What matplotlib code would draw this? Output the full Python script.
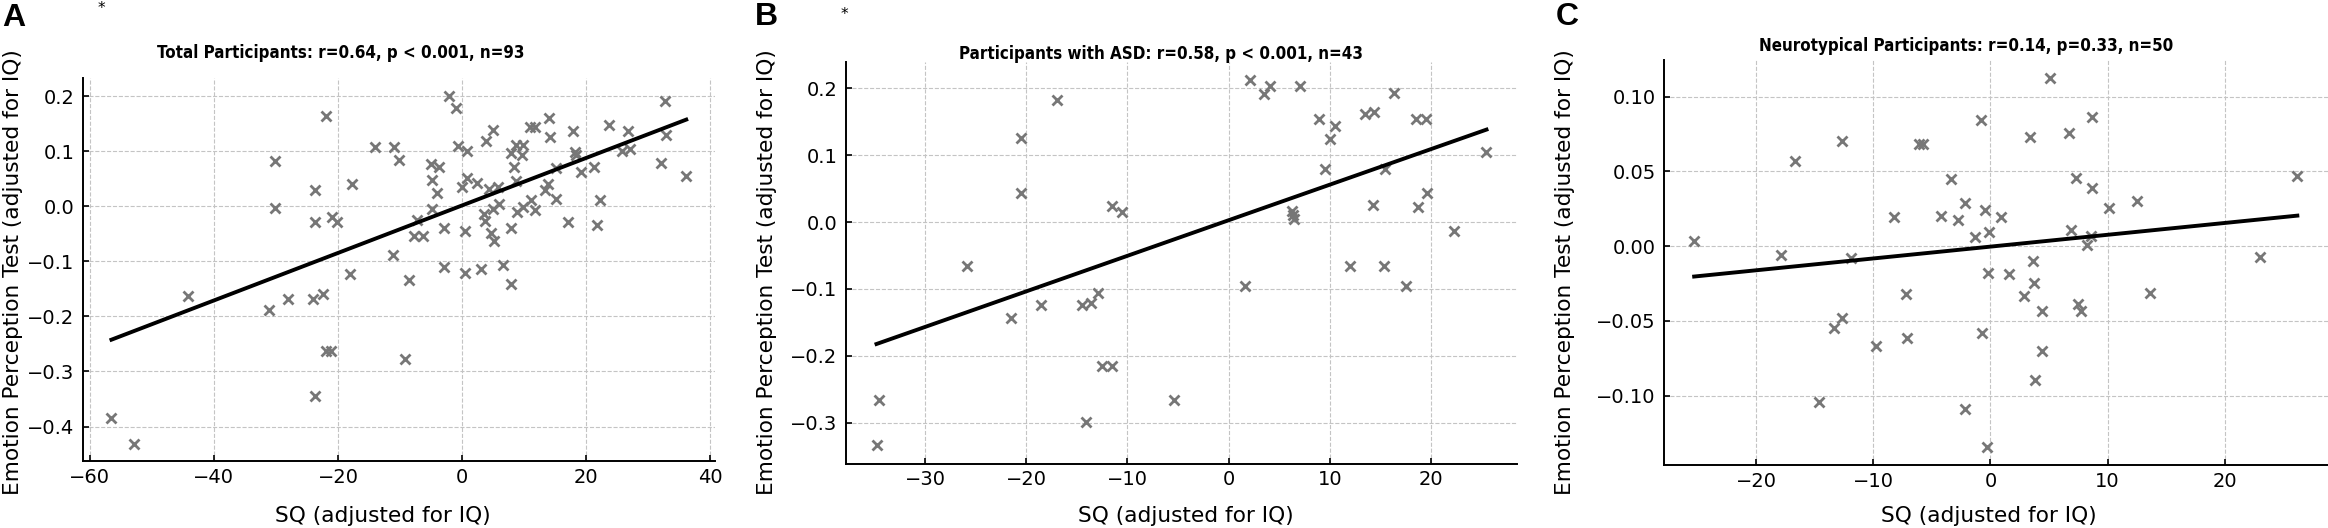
import numpy as np
import matplotlib
matplotlib.use("Agg")
import matplotlib.pyplot as plt
from matplotlib import font_manager
from matplotlib.ticker import MultipleLocator

# values (SQ and emotion perception, both adjusted for IQ)
total_sq = [-56.5, -52.9, -44.1, -31.1, -28.1, -30.1, -30.1, -24.1, -23.7, -23.7,
            -23.7, -22.4, -22.0, -22.0, -21.1, -21.0, -20.1, -18.0, -17.8, -14.1,
            -11.2, -11.0, -10.2, -8.5, -9.2, -7.7, -6.3, -7.2, -5.1, -3.8,
            -4.9, -4.0, -4.8, -3.0, -3.0, -2.1, -1.0, -0.7, 0.8, -0.1,
            0.8, 0.4, 0.5, 2.4, 3.9, 4.9, 4.3, 5.7, 3.5, 3.7,
            5.0, 6.0, 4.7, 5.2, 3.0, 6.5, 7.8, 7.8, 7.8, 8.7,
            9.8, 9.6, 8.3, 8.7, 8.9, 9.8, 11.1, 11.7, 10.9, 11.7,
            14.0, 14.2, 13.8, 13.4, 15.1, 15.1, 17.0, 17.8, 18.2, 18.3,
            19.1, 21.3, 22.2, 21.8, 23.7, 25.8, 27.0, 26.7, 32.0, 32.7,
            32.8, 36.1]
total_ept = [-0.385, -0.431, -0.162, -0.188, -0.168, 0.082, -0.003, -0.168, 0.029, -0.028,
             -0.345, -0.160, 0.164, -0.262, -0.262, -0.020, -0.029, -0.122, 0.040, 0.108,
             -0.088, 0.108, 0.085, -0.134, -0.278, -0.054, -0.054, -0.024, 0.077, 0.071,
             0.048, 0.025, -0.005, -0.039, -0.110, 0.201, 0.178, 0.110, 0.100, 0.035,
             0.052, -0.045, -0.121, 0.042, 0.119, 0.138, 0.031, 0.036, -0.013, -0.026,
             -0.004, 0.005, -0.048, -0.063, -0.114, -0.106, -0.039, -0.141, 0.097, 0.112,
             0.112, 0.094, 0.071, 0.046, -0.011, -0.002, 0.012, -0.007, 0.144, 0.144,
             0.161, 0.126, 0.040, 0.030, 0.069, 0.014, -0.028, 0.137, 0.098, 0.094,
             0.063, 0.071, 0.011, -0.034, 0.147, 0.100, 0.104, 0.136, 0.078, 0.192,
             0.129, 0.055]

asd_sq = [-34.8, -34.6, -25.9, -21.5, -20.5, -20.5, -18.5, -17.0, -14.5, -13.6,
          -12.9, -14.1, -12.5, -11.5, -11.5, -10.5, -5.4, 1.6, 2.1, 3.5,
          4.1, 7.1, 6.3, 6.4, 6.5, 8.9, 9.5, 10.0, 10.5, 12.0,
          13.5, 14.4, 14.3, 15.5, 15.4, 16.4, 17.5, 18.5, 19.5, 18.7,
          19.6, 22.3, 25.5]
asd_ept = [-0.334, -0.267, -0.066, -0.143, 0.126, 0.043, -0.124, 0.182, -0.124, -0.121,
           -0.106, -0.299, -0.216, -0.216, 0.024, 0.015, -0.267, -0.095, 0.213, 0.192,
           0.204, 0.204, 0.017, 0.010, 0.005, 0.154, 0.080, 0.124, 0.144, -0.066,
           0.162, 0.165, 0.025, 0.080, -0.065, 0.193, -0.096, 0.154, 0.154, 0.022,
           0.043, -0.013, 0.105]

nt_sq = [-25.3, -17.9, -16.7, -12.7, -11.9, -14.6, -13.4, -12.7, -9.8, -8.2,
         -7.2, -7.1, -6.1, -5.8, -4.2, -3.4, -2.8, -2.2, -2.2, -1.3,
         -0.8, -0.5, -0.7, -0.15, -0.2, -0.3, 0.9, 1.6, 2.9, 3.4,
         3.6, 3.7, 3.8, 4.4, 4.4, 5.1, 6.7, 6.9, 7.3, 7.5,
         7.7, 8.2, 8.6, 8.7, 8.7, 10.1, 12.5, 13.6, 23.0, 26.2]
nt_ept = [0.0038, -0.0056, 0.0572, 0.0702, -0.0080, -0.1040, -0.0546, -0.0483, -0.0668, 0.0194,
          -0.0321, -0.0617, 0.0686, 0.0686, 0.0203, 0.0450, 0.0178, 0.0292, -0.1087, 0.0060,
          0.0846, 0.0245, -0.0580, 0.0094, -0.0176, -0.1340, 0.0194, -0.0189, -0.0332, 0.0733,
          -0.0102, -0.0245, -0.0898, -0.0434, -0.0704, 0.1122, 0.0755, 0.0105, 0.0454, -0.0385,
          -0.0432, 0.0011, 0.0065, 0.0862, 0.0392, 0.0256, 0.0303, -0.0312, -0.0073, 0.0472]

titles = ["Total Participants: r=0.64, p < 0.001, n=93",
          "Participants with ASD: r=0.58, p < 0.001, n=43",
          "Neurotypical Participants: r=0.14, p=0.33, n=50"]
letters = ["A", "B", "C"]
x_steps = [20, 10, 10]
y_steps = [0.1, 0.1, 0.05]

W, H = 2328, 528


def pick_font(names):
    for n in names:
        try:
            font_manager.findfont(font_manager.FontProperties(family=n),
                                  fallback_to_default=False)
            return n
        except ValueError:
            pass
    return "DejaVu Sans"


arial = pick_font(["Liberation Sans", "Arial", "DejaVu Sans"])

# titles in the reference use a narrow bold face
title_font = None
title_size = 13.6
for fam in ["Liberation Sans Narrow", "Arial Narrow"]:
    try:
        p = font_manager.findfont(font_manager.FontProperties(family=fam, weight="bold"),
                                  fallback_to_default=False)
        title_font = font_manager.FontProperties(fname=p)
        title_size = 14
        break
    except ValueError:
        pass
if title_font is None:
    p = font_manager.findfont(font_manager.FontProperties(family="DejaVu Sans", weight="bold",
                                                          stretch="condensed"))
    if "Condensed" in p:
        title_font = font_manager.FontProperties(fname=p)
        title_size = 12.2
    else:
        title_font = font_manager.FontProperties(family=arial, weight="bold")
        title_size = 12.2

plt.rcParams['font.family'] = ['DejaVu Sans']


def fx(px):
    return px / W


def fy(py):
    return 1 - py / H


fig = plt.figure(figsize=(W / 100, H / 100), dpi=100)
fig.patch.set_facecolor("white")

# axes boxes in pixels: left, top, right, bottom
boxes = [(82.7, 78.3, 715, 461), (846, 61.5, 1517, 463.5), (1664, 60, 2327.5, 465)]
title_pos = [(340.5, 58), (1161, 59), (1966, 51)]
xlabel_x = [383, 1186, 1989]
ylabel_x = [13, 767, 1565]
letter_pos = [(2, 26), (755, 25), (1556, 25)]
star_pos = [(101.5, 8), (844, 14)]

data = [(total_sq, total_ept), (asd_sq, asd_ept), (nt_sq, nt_ept)]

for i, (sq, ept) in enumerate(data):
    l, t, r, b = boxes[i]
    ax = fig.add_axes([fx(l), fy(b), fx(r - l), (b - t) / H])
    sq = np.array(sq)
    ept = np.array(ept)

    ax.plot(sq, ept, linestyle="none", marker="x", markersize=6.5, markeredgewidth=2.0,
            color="#777777", zorder=3)
    slope, icpt = np.polyfit(sq, ept, 1)
    xs = np.array([sq.min(), sq.max()])
    ax.plot(xs, slope * xs + icpt, color="black", linewidth=2.8, zorder=4)

    ax.xaxis.set_major_locator(MultipleLocator(x_steps[i]))
    ax.yaxis.set_major_locator(MultipleLocator(y_steps[i]))
    ax.grid(True, linestyle="--", color="#c4c4c4", linewidth=0.8)
    ax.set_axisbelow(True)
    for s in ["top", "right"]:
        ax.spines[s].set_visible(False)
    for s in ["left", "bottom"]:
        ax.spines[s].set_linewidth(1.4)
    ax.tick_params(direction="in", length=4.5, width=1.2, labelsize=14, pad=6)
    ax.tick_params(axis="x", pad=5)

    fig.text(fx(title_pos[i][0]), fy(title_pos[i][1]), titles[i], ha="center",
             va="baseline", fontsize=title_size, fontproperties=title_font)
    fig.text(fx(xlabel_x[i]), fy(522), "SQ (adjusted for IQ)", ha="center",
             va="baseline", fontsize=15.6)
    fig.text(fx(ylabel_x[i]), fy(272), "Emotion Perception Test (adjusted for IQ)",
             ha="center", va="center", rotation=90, fontsize=15.6)
    fig.text(fx(letter_pos[i][0]), fy(letter_pos[i][1]), letters[i], ha="left",
             va="baseline", fontsize=23, fontweight="bold", family=arial)

for (x, y) in star_pos:
    fig.text(fx(x), fy(y), "*", ha="center", va="center", fontsize=11)

fig.savefig("out.png", dpi=100)
